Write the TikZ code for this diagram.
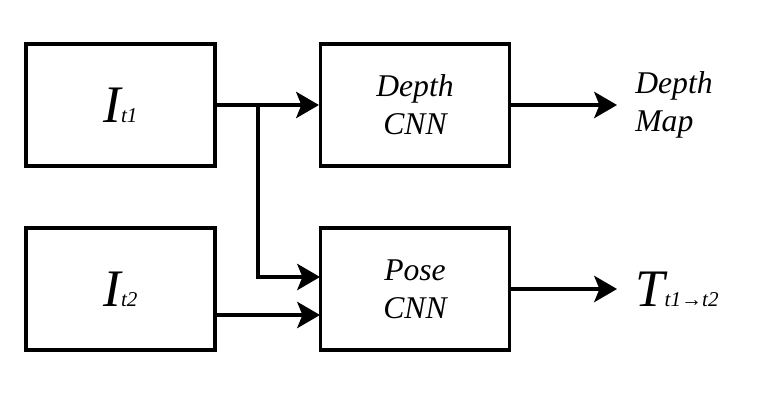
\documentclass[tikz,border=0pt]{standalone}
\usepackage{fontspec}
\setmainfont{Liberation Serif}
\usetikzlibrary{arrows.meta}
\tikzstyle{blk}=[rectangle,draw=black,line width=1.8pt,inner sep=0pt,
  minimum width=3.78cm,minimum height=2.44cm,align=center,
  font=\fontsize{18}{21.5}\selectfont\itshape]
\tikzstyle{outl}=[inner sep=0pt,anchor=west,align=left,
  font=\fontsize{18}{21.5}\selectfont\itshape]
\tikzstyle{arr}=[-{Stealth[length=13pt,width=15pt,inset=3pt]},line width=1.8pt]

\begin{document}
\begin{tikzpicture}[x=0.02cm,y=-0.02cm]
        \useasboundingbox (0,0) rectangle (774,402);
        \node [style=blk] (i1) at (120.5,105) {{\fontsize{30}{30}\selectfont I}{\fontsize{12}{12}\selectfont t1}};
        \node [style=blk] (i2) at (120.5,289) {{\fontsize{30}{30}\selectfont I}{\fontsize{12}{12}\selectfont t2}};
        \node [style=blk] (dc) at (415,105) {Depth\\CNN};
        \node [style=blk] (pc) at (415,289) {Pose\\CNN};
        \node [style=outl] (dm) at (635,105) {Depth\\Map};
        \node [style=outl] (tt) at (635,289) {{\fontsize{30}{30}\selectfont T}{\fontsize{12}{12}\selectfont t1→t2}};
        \coordinate (br) at (258,105);
        \coordinate (p1) at (320,277);
        \coordinate (p2) at (320,315);
        \draw [style=arr] (i1) to (dc);
        \draw [style=arr] (br) |- (p1);
        \draw [style=arr] (i2.east |- p2) to (p2);
        \draw [style=arr,shorten >=0.36cm] (dc) to (dm);
        \draw [style=arr,shorten >=0.36cm] (pc) to (tt);
    \end{tikzpicture}
\end{document}
